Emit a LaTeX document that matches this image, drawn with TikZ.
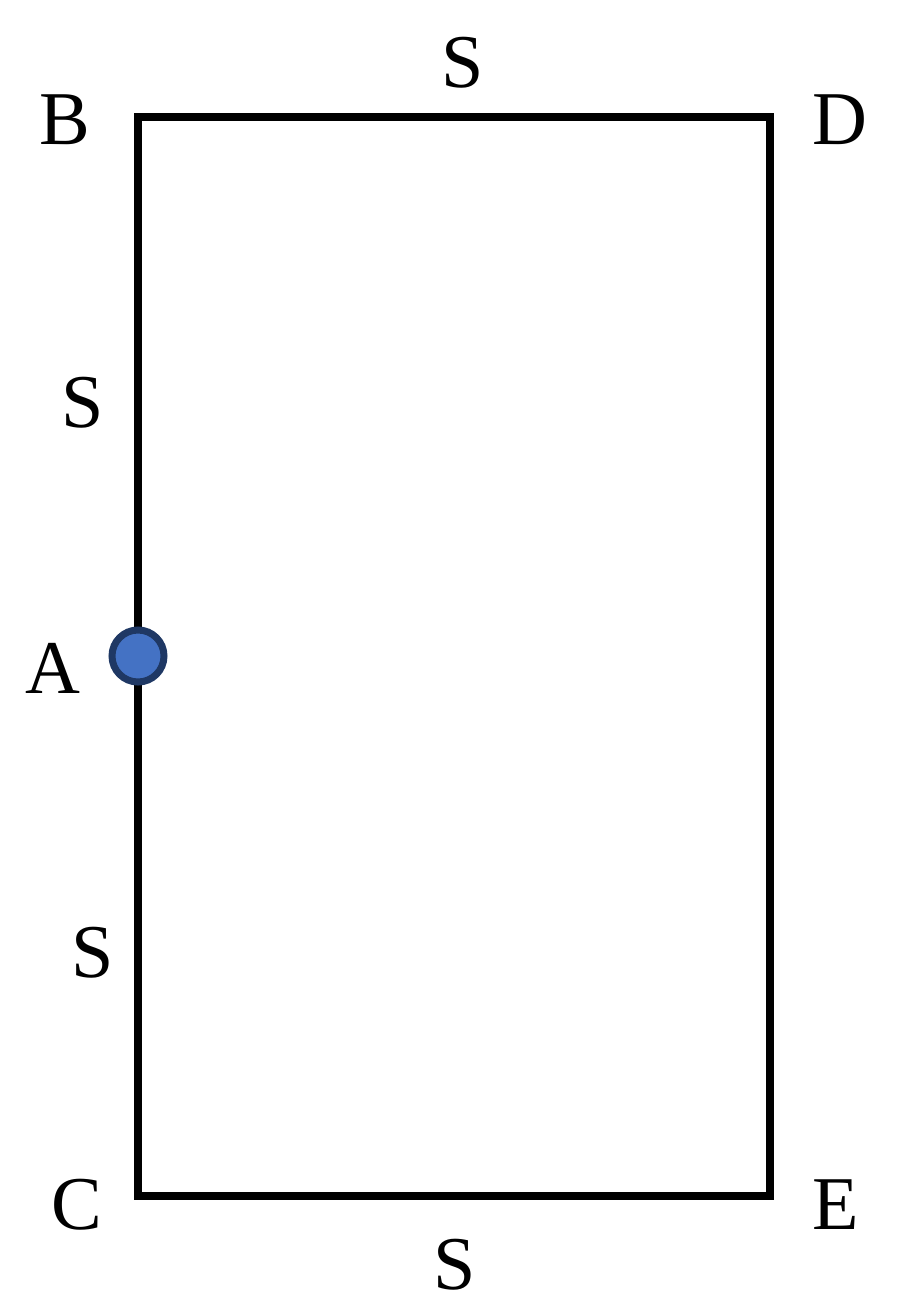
\documentclass[tikz,border=0pt]{standalone}
\usepackage{fontspec}
\setmainfont{Liberation Serif}
\definecolor{dotfill}{HTML}{4472C4}
\definecolor{dotline}{HTML}{1F3864}
\begin{document}
\begin{tikzpicture}[x=1pt,y=-1pt,
  lbl/.style={font=\fontsize{76}{80}\selectfont, inner sep=0pt, anchor=center},
  edge/.style={line width=8pt, line join=miter, draw=black},
  dot/.style={circle, minimum size=52pt, inner sep=0pt, line width=7pt, draw=dotline, fill=dotfill}]
\useasboundingbox (0,0) rectangle (898,1315);
\coordinate (cB) at (138,117);
\coordinate (cD) at (770,117);
\coordinate (cC) at (138,1196);
\coordinate (cE) at (770,1196);
\draw[edge] (cB) -- (cD) -- (cE) -- (cC) -- cycle;
\node[dot] (A) at (138,656) {};
\node[lbl] (lB) at (65,120) {B};
\node[lbl] (lD) at (840,120) {D};
\node[lbl] (lC) at (77,1205) {C};
\node[lbl] (lE) at (836,1205) {E};
\node[lbl] (lA) at (53,668) {A};
\node[lbl] (s1) at (463,63) {S};
\node[lbl] (s2) at (83,403) {S};
\node[lbl] (s3) at (93,953) {S};
\node[lbl] (s4) at (455,1265) {S};
\end{tikzpicture}
\end{document}
